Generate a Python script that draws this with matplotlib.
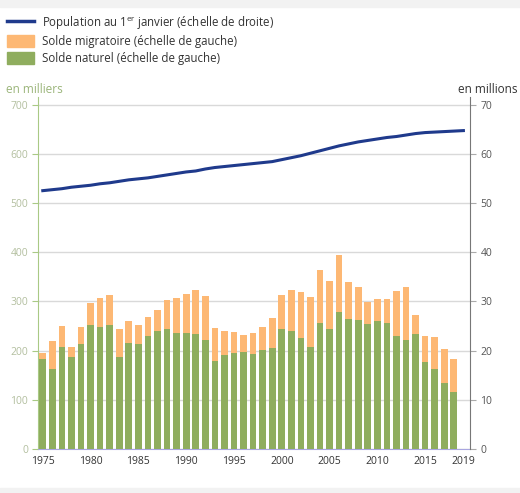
import matplotlib.pyplot as plt
from matplotlib.patches import Rectangle
from matplotlib.lines import Line2D

plt.rcParams['font.family'] = ['Open Sans', 'DejaVu Sans']

years = list(range(1975, 2019))
naturel = [183, 163, 208, 188, 214, 253, 249, 253, 188, 216, 213, 229, 240, 245, 235,
           235, 233, 222, 179, 191, 196, 198, 194, 202, 206, 244, 240, 225, 208, 257,
           245, 279, 265, 263, 255, 261, 256, 229, 222, 233, 177, 163, 135, 116]
total = [196, 220, 251, 208, 249, 296, 306, 314, 244, 261, 253, 269, 283, 302, 306,
         316, 323, 311, 247, 240, 238, 232, 236, 248, 267, 314, 323, 319, 308, 363,
         341, 394, 339, 329, 299, 305, 305, 321, 329, 273, 230, 227, 203, 183]
migratoire = [t - n for t, n in zip(total, naturel)]

pop_years = list(range(1975, 2020))
population = [52.5, 52.7, 52.9, 53.2, 53.4, 53.6, 53.9, 54.1, 54.4, 54.7,
              54.9, 55.1, 55.4, 55.7, 56.0, 56.3, 56.5, 56.9, 57.2, 57.4,
              57.6, 57.8, 58.0, 58.2, 58.4, 58.8, 59.2, 59.6, 60.1, 60.6,
              61.1, 61.6, 62.0, 62.4, 62.7, 63.0, 63.3, 63.5, 63.8, 64.1,
              64.3, 64.4, 64.5, 64.6, 64.7]

x_ticks = [1975, 1980, 1985, 1990, 1995, 2000, 2005, 2010, 2015, 2019]

green = '#8fad5e'
orange = '#fdb874'
navy = '#1f3a8c'
dark = '#555555'

fig = plt.figure(figsize=(5.2, 4.93), dpi=100)
fig.patch.set_facecolor('white')
fig.add_artist(Rectangle((0, 1 - 7 / 493), 1, 7 / 493, transform=fig.transFigure,
                         color='#f2f2f2', zorder=0))
fig.add_artist(Rectangle((0, 0), 1, 5 / 493, transform=fig.transFigure,
                         color='#f2f2f2', zorder=0))

ax = fig.add_axes([0.074, 0.089, 0.830, 0.714])
ax.bar(years, naturel, width=0.7, color=green, zorder=3)
ax.bar(years, migratoire, width=0.7, bottom=naturel, color=orange, zorder=3)
ax.set_xlim(1974.55, 2019.7)
ax.set_ylim(0, 715)
ax.set_yticks(range(0, 701, 100))
ax.set_xticks(x_ticks)
ax.grid(axis='y', color='#d9d9d9', linewidth=1, zorder=0)
for s in ['top', 'right']:
    ax.spines[s].set_visible(False)
ax.spines['left'].set_color('#a9c985')
ax.spines['bottom'].set_color('#a9a6e0')
ax.tick_params(axis='y', colors='#a9c985', labelcolor='#b3bf9f', labelsize=7.5, length=4)
ax.tick_params(axis='x', length=0, labelcolor='#333333', labelsize=7.5, pad=5)

ax2 = ax.twinx()
ax2.plot(pop_years, population, color=navy, linewidth=2.2, zorder=4)
ax2.set_ylim(0, 71.5)
ax2.set_yticks(range(0, 71, 10))
for s in ['top', 'left', 'bottom']:
    ax2.spines[s].set_visible(False)
ax2.spines['right'].set_color('#777777')
ax2.tick_params(axis='y', colors='#aaaaaa', labelcolor=dark, labelsize=7.5, length=4)

fig.text(0.012, 0.812, 'en milliers', color='#9bb57a', fontsize=8.5)
fig.text(0.995, 0.812, 'en millions', color='#333333', fontsize=8.5, ha='right')

handles = [Line2D([0], [0], color=navy, linewidth=2.5),
           Rectangle((0, 0), 1, 1, color=orange),
           Rectangle((0, 0), 1, 1, color=green)]
labels = ['Population au 1$^{\\mathregular{er}}$ janvier (échelle de droite)',
          'Solde migratoire (échelle de gauche)',
          'Solde naturel (échelle de gauche)']
fig.legend(handles, labels, loc='upper left', bbox_to_anchor=(-0.006, 0.993),
           frameon=False, fontsize=8.3, handlelength=2.3, handleheight=1.2,
           labelspacing=0.35, handletextpad=0.7, labelcolor='#333333')

fig.savefig('out.png', dpi=100)
